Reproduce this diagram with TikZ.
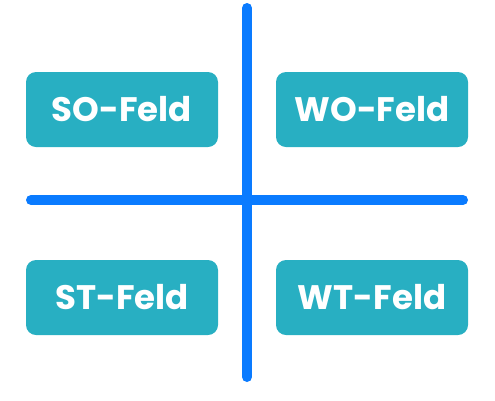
\documentclass[tikz,border=0pt]{standalone}
\usepackage{fontspec}
\setmainfont{Poppins}[BoldFont={* Bold}]
\definecolor{feldteal}{HTML}{28AFC2}
\definecolor{achsblue}{HTML}{0A7BFF}
\tikzset{
  feld/.style={fill=feldteal, rounded corners=10pt, minimum width=192pt, minimum height=75pt,
    inner sep=0pt, text=white, font=\bfseries\fontsize{34}{40}\selectfont},
  achse/.style={draw=achsblue, line width=10pt, line cap=round}
}
\begin{document}
\begin{tikzpicture}[x=1pt, y=-1pt]
    \useasboundingbox (0,0) rectangle (495,400);

    \coordinate (top) at (247, 8);
    \coordinate (bottom) at (247, 377);
    \coordinate (left) at (31, 200);
    \coordinate (right) at (463, 200);
    \draw[achse] (top) -- (bottom);
    \draw[achse] (left) -- (right);

    \node[feld] (so) at (122, 109.5) {SO-Feld};
    \node[feld] (wo) at (372, 109.5) {WO-Feld};
    \node[feld] (st) at (122, 297.5) {ST-Feld};
    \node[feld] (wt) at (372, 297.5) {WT-Feld};
  \end{tikzpicture}
\end{document}
